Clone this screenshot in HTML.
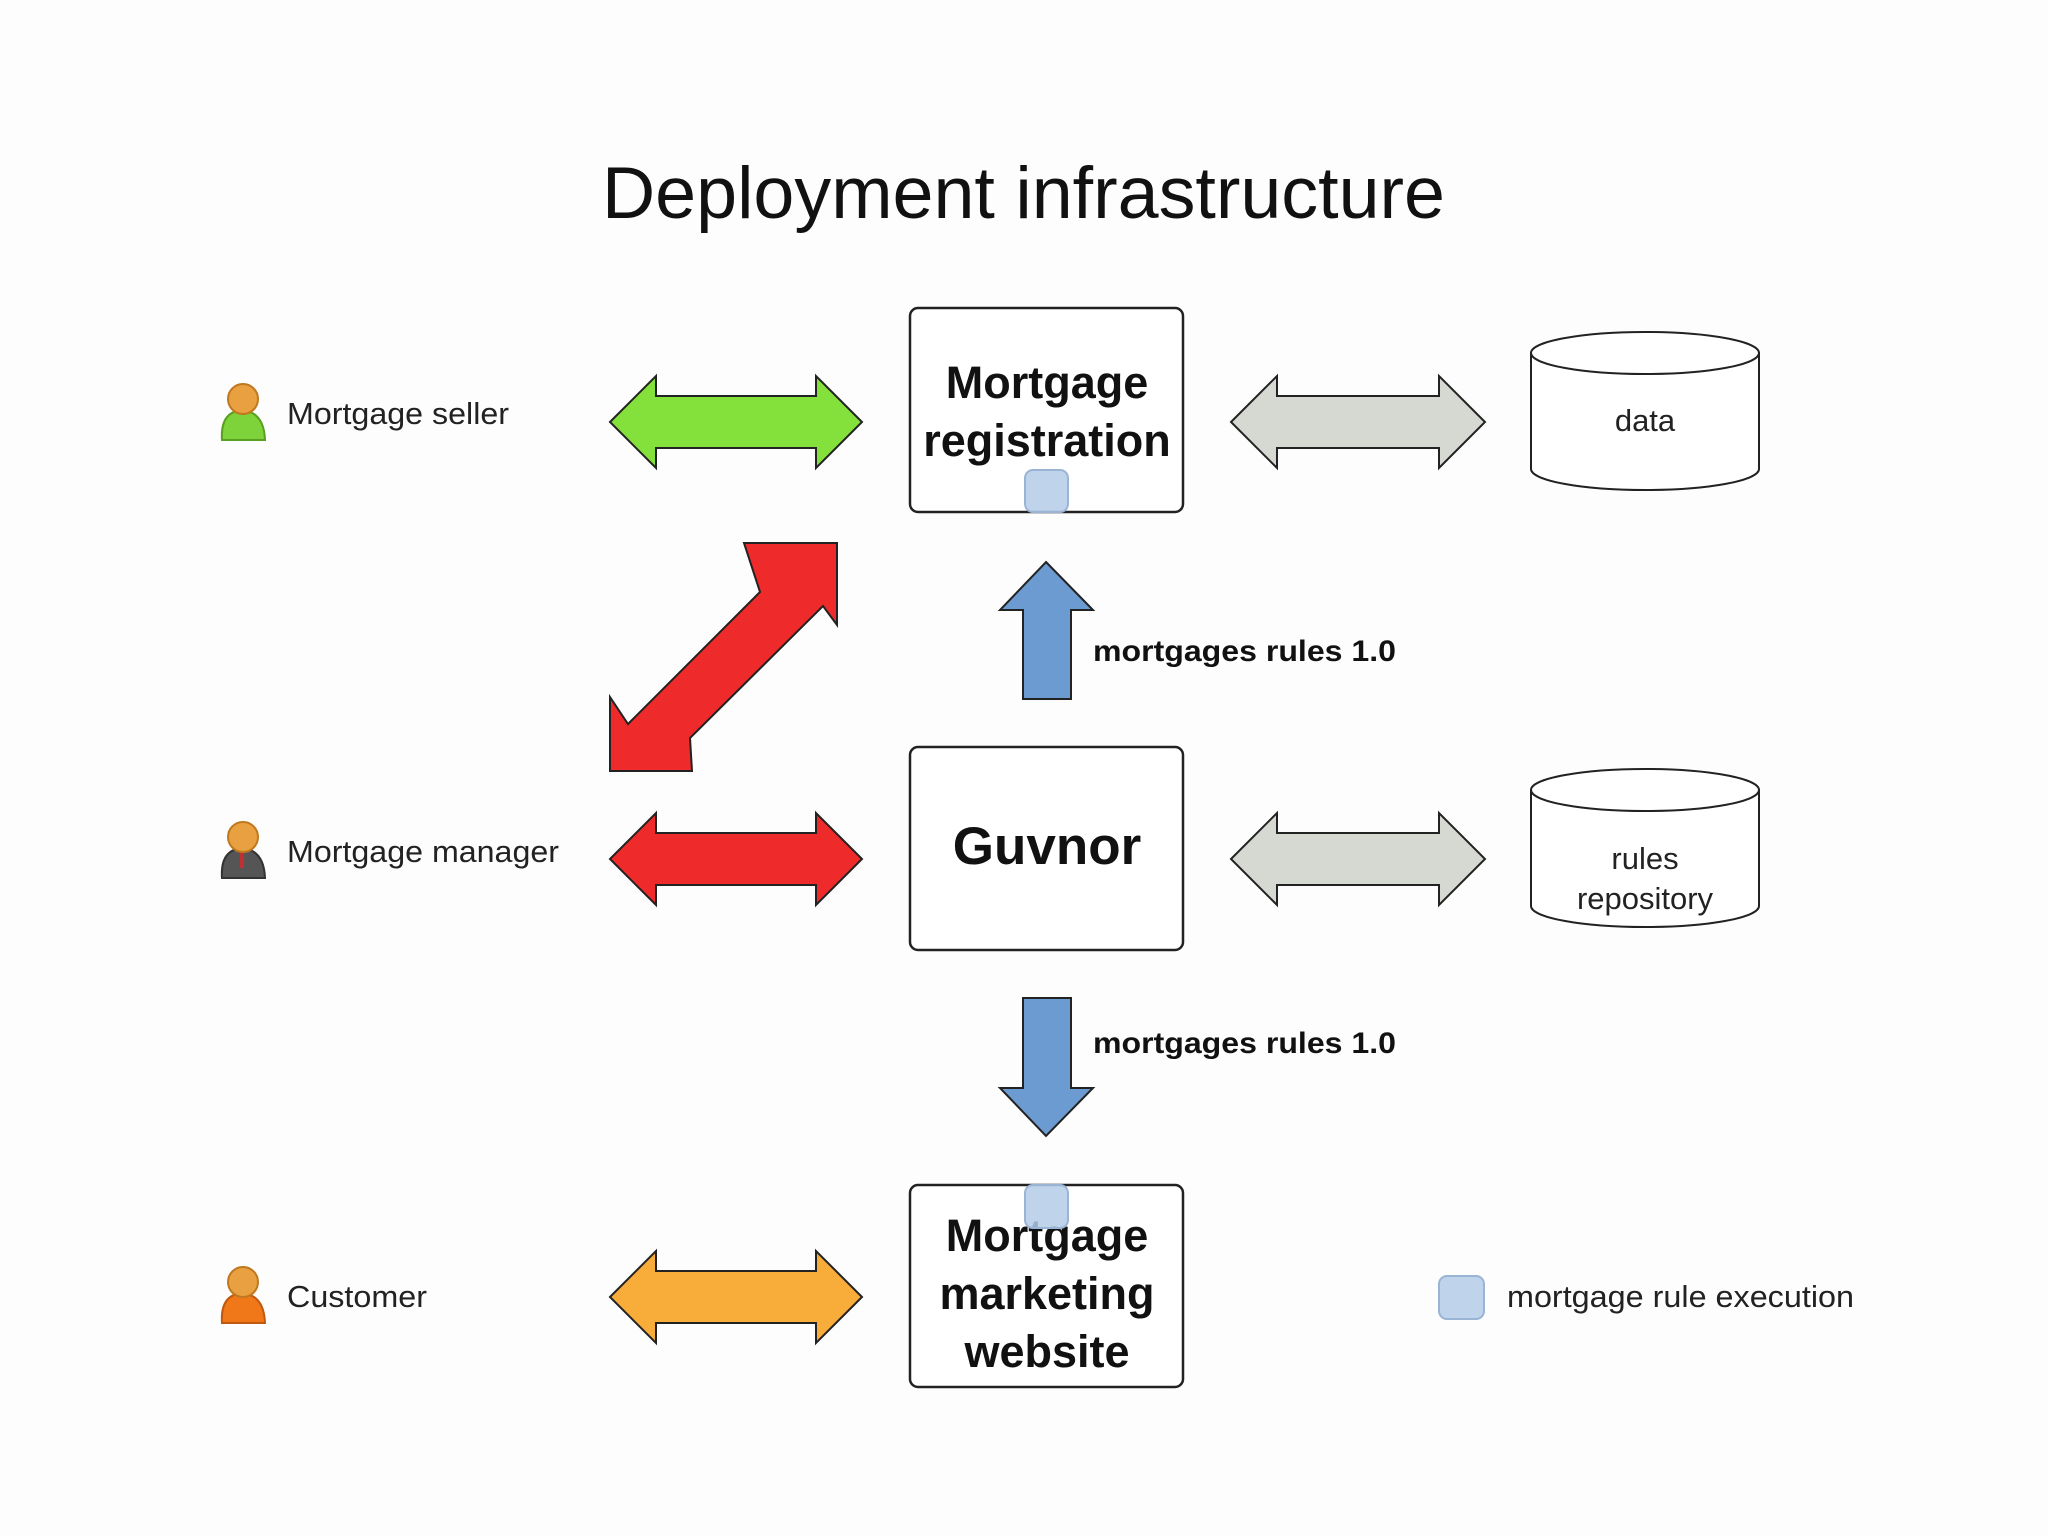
<!DOCTYPE html>
<html><head><meta charset="utf-8"><style>
html,body{margin:0;padding:0;background:#fdfdfd;}
svg{display:block;}
text{font-family:"Liberation Sans",Arial,sans-serif;}
</style></head><body>
<svg width="2048" height="1536" viewBox="0 0 2048 1536" xmlns="http://www.w3.org/2000/svg">
<rect width="2048" height="1536" fill="#fdfdfd"/>
<text x="602" y="218" font-size="73" textLength="843" lengthAdjust="spacingAndGlyphs" fill="#111">Deployment infrastructure</text>

<g>
 <path d="M222 440 Q220 412 242 410 Q264 412 265 440 Z" fill="#7ed23a" stroke="#5aa020" stroke-width="2"/>
 <circle cx="243" cy="399" r="15" fill="#e8a040" stroke="#c07820" stroke-width="2"/>
 <path d="M222 878 Q220 850 242 848 Q264 850 265 878 Z" fill="#555" stroke="#333" stroke-width="2"/>
 <rect x="240" y="850" width="4" height="18" fill="#c03030"/>
 <circle cx="243" cy="837" r="15" fill="#e8a040" stroke="#c07820" stroke-width="2"/>
 <path d="M222 1323 Q220 1295 242 1293 Q264 1295 265 1323 Z" fill="#f07818" stroke="#c05810" stroke-width="2"/>
 <circle cx="243" cy="1282" r="15" fill="#e8a040" stroke="#c07820" stroke-width="2"/>
</g>
<text x="287" y="424" font-size="31" textLength="222" lengthAdjust="spacingAndGlyphs" fill="#222">Mortgage seller</text>
<text x="287" y="862" font-size="31" textLength="272" lengthAdjust="spacingAndGlyphs" fill="#222">Mortgage manager</text>
<text x="287" y="1307" font-size="31" textLength="140" lengthAdjust="spacingAndGlyphs" fill="#222">Customer</text>

<g stroke="#222" stroke-width="2">
 <polygon points="610,422 656,376 656,396 816,396 816,376 862,422 816,468 816,448 656,448 656,468" fill="#84e03a"/>
 <polygon points="610,859 656,813 656,833 816,833 816,813 862,859 816,905 816,885 656,885 656,905" fill="#ee2a2a"/>
 <polygon points="610,1297 656,1251 656,1271 816,1271 816,1251 862,1297 816,1343 816,1323 656,1323 656,1343" fill="#f8ac3a"/>
 <polygon points="1231,422 1277,376 1277,396 1439,396 1439,376 1485,422 1439,468 1439,448 1277,448 1277,468" fill="#d6d8d2"/>
 <polygon points="1231,859 1277,813 1277,833 1439,833 1439,813 1485,859 1439,905 1439,885 1277,885 1277,905" fill="#d6d8d2"/>
 <polygon points="610,771 610,697 628,724 760,592 744,543 837,543 837,625 823,606 690,738 692,771" fill="#ee2a2a"/>
 <polygon points="1046,562 1093,610 1071,610 1071,699 1023,699 1023,610 1000,610" fill="#6b9bd0"/>
 <polygon points="1023,998 1071,998 1071,1088 1093,1088 1046,1136 1000,1088 1023,1088" fill="#6b9bd0"/>
</g>
<text x="1093" y="661" font-size="30" font-weight="bold" textLength="303" lengthAdjust="spacingAndGlyphs" fill="#111">mortgages rules 1.0</text>
<text x="1093" y="1053" font-size="30" font-weight="bold" textLength="303" lengthAdjust="spacingAndGlyphs" fill="#111">mortgages rules 1.0</text>

<g fill="#fff" stroke="#222" stroke-width="2.5">
 <rect x="910" y="308" width="273" height="204" rx="8"/>
 <rect x="910" y="747" width="273" height="203" rx="8"/>
 <rect x="910" y="1185" width="273" height="202" rx="8"/>
</g>
<g font-size="45" font-weight="bold" text-anchor="middle" fill="#111">
 <text x="1047" y="398">Mortgage</text>
 <text x="1047" y="456">registration</text>
 <text x="1047" y="864" font-size="53">Guvnor</text>
 <text x="1047" y="1251">Mortgage</text>
 <text x="1047" y="1309">marketing</text>
 <text x="1047" y="1367">website</text>
</g>
<g fill="#b4cbe8" fill-opacity="0.85" stroke="#9ab4d6" stroke-width="2">
 <rect x="1025" y="470" width="43" height="42" rx="8"/>
 <rect x="1025" y="1185" width="43" height="43" rx="8"/>
 <rect x="1439" y="1276" width="45" height="43" rx="8"/>
</g>
<text x="1507" y="1307" font-size="31" textLength="347" lengthAdjust="spacingAndGlyphs" fill="#222">mortgage rule execution</text>

<g fill="#fff" stroke="#222" stroke-width="2">
 <path d="M1531 353 L1531 469 A114 21 0 0 0 1759 469 L1759 353"/>
 <ellipse cx="1645" cy="353" rx="114" ry="21"/>
 <path d="M1531 790 L1531 906 A114 21 0 0 0 1759 906 L1759 790"/>
 <ellipse cx="1645" cy="790" rx="114" ry="21"/>
</g>
<g font-size="31" text-anchor="middle" fill="#222">
 <text x="1645" y="431">data</text>
 <text x="1645" y="869">rules</text>
 <text x="1645" y="909">repository</text>
</g>
</svg>
</body></html>
